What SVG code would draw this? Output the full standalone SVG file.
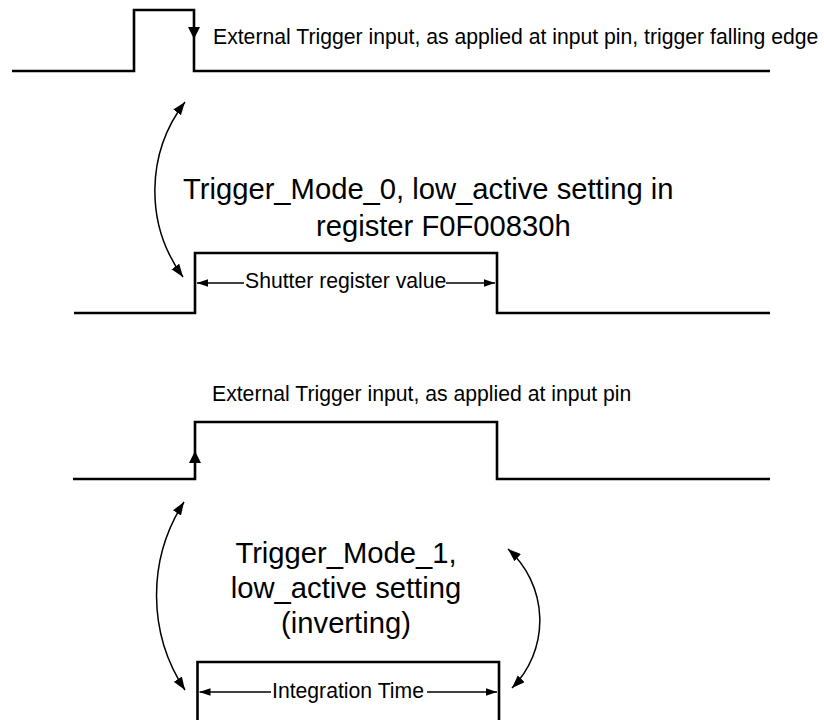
<svg xmlns="http://www.w3.org/2000/svg" width="824" height="720" viewBox="0 0 824 720">
  <style>
    .wave { fill: none; stroke: #000; stroke-width: 2.6; stroke-linejoin: miter; stroke-linecap: butt; }
    .lbl { font-family: "Liberation Sans", Arial, sans-serif; font-size: 21.2px; fill: #000; }
    .title { font-family: "Liberation Sans", Arial, sans-serif; font-size: 29.2px; fill: #000; }
    .curve { fill: none; stroke: #000; stroke-width: 1.5; marker-start: url(#bigHead); marker-end: url(#bigHead); }
    .dim { fill: none; stroke: #000; stroke-width: 1.5; }
    .dimL { marker-start: url(#smallHead); }
    .dimR { marker-end: url(#smallHead); }
    .edge { fill: #000; stroke: none; }
  </style>
  <defs>
    <marker id="bigHead" viewBox="-13 -5 13 10" refX="0" refY="0" markerWidth="13" markerHeight="10" markerUnits="userSpaceOnUse" orient="auto-start-reverse">
      <path d="M0,0 L-13,-4.8 L-13,4.8 Z" fill="#000"/>
    </marker>
    <marker id="smallHead" viewBox="-11 -4 11 8" refX="0" refY="0" markerWidth="11" markerHeight="8" markerUnits="userSpaceOnUse" orient="auto-start-reverse">
      <path d="M0,0 L-11,-3.8 L-11,3.8 Z" fill="#000"/>
    </marker>
  </defs>

  <rect width="824" height="720" fill="#fff"/>

  <!-- external trigger, falling edge -->
  <g id="trigger-falling">
    <path class="wave" d="M12,71 H134 V10 H194 V71 H770"/>
    <polygon class="edge" points="188,27 200,27 194,39"/>
    <text class="lbl" x="213" y="44">External Trigger input, as applied at input pin, trigger falling edge</text>
  </g>

  <!-- mode 0 caption -->
  <g id="mode0-caption">
    <text class="title" x="183" y="199">Trigger_Mode_0, low_active setting in</text>
    <text class="title" x="316" y="236">register F0F00830h</text>
  </g>

  <!-- shutter pulse -->
  <g id="shutter-pulse">
    <path class="wave" d="M74,313 H195 V253 H497 V313 H770"/>
    <text class="lbl" x="245" y="288">Shutter register value</text>
  </g>

  <!-- external trigger, rising edge -->
  <g id="trigger-rising">
    <text class="lbl" x="212" y="401">External Trigger input, as applied at input pin</text>
    <path class="wave" d="M73,479 H195 V422 H497 V479 H770"/>
    <polygon class="edge" points="189,463 201,463 195,451"/>
  </g>

  <!-- mode 1 caption -->
  <g id="mode1-caption">
    <text class="title" x="346" y="563" text-anchor="middle">Trigger_Mode_1,</text>
    <text class="title" x="346" y="598" text-anchor="middle">low_active setting</text>
    <text class="title" x="346" y="633" text-anchor="middle">(inverting)</text>
  </g>

  <!-- integration pulse -->
  <g id="integration-pulse">
    <path class="wave" d="M197.5,730 V662 H499 V730"/>
    <text class="lbl" x="272" y="698">Integration Time</text>
  </g>

  <g id="connectors">
    <path class="curve" d="M185,102 A146,146 0 0 0 183,277"/>
    <path class="dim dimL" d="M197,283 H244"/>
    <path class="dim dimR" d="M446,283 H495"/>
    <path class="curve" d="M184,502 A172,172 0 0 0 185,690"/>
    <path class="curve" d="M508,549 A96,96 0 0 1 512,688"/>
    <path class="dim dimL" d="M199.5,692 H271"/>
    <path class="dim dimR" d="M427,692 H497"/>
  </g>
</svg>
